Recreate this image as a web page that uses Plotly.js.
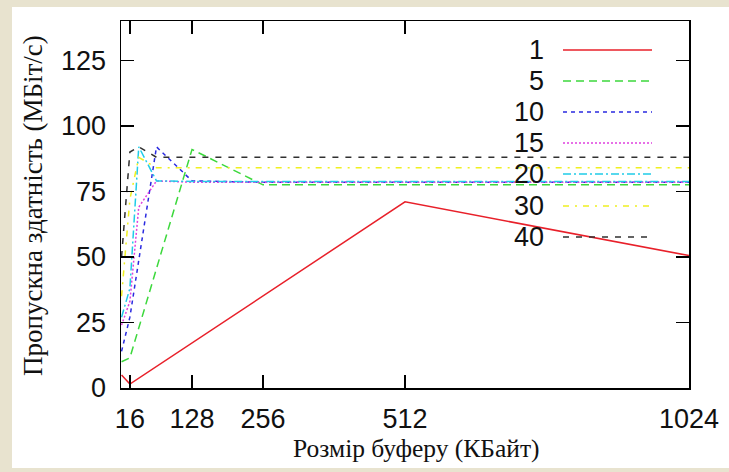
<!DOCTYPE html>
<html>
<head>
<meta charset="utf-8">
<script src="https://cdn.plot.ly/plotly-3.0.1.min.js"></script>
<style>html,body{margin:0;padding:0;background:#e8e3cf;}</style>
</head>
<body>
<div id="chart" style="width:729px;height:472px;"></div>
<script>
// ---- data ----
const seriesNames = ["1", "5", "10", "15", "20", "30", "40"];
const x1  = [1, 16, 512, 1024];
const y1  = [5, 1.5, 71, 50.5];
const x5  = [1, 16, 128, 256, 512, 1024];
const y5  = [10, 11.5, 91, 77.5, 77.5, 77.5];
const x10 = [1, 16, 64, 128, 256, 512, 1024];
const y10 = [14, 27, 92, 79, 78.5, 78.5, 78.5];
const x15 = [1, 16, 32, 64, 128, 256, 512, 1024];
const y15 = [24, 33, 69, 79, 78.5, 78.5, 78.5, 78.5];
const x20 = [1, 16, 32, 64, 128, 256, 512, 1024];
const y20 = [27, 38, 92, 79, 78.8, 78.8, 78.8, 78.8];
const x30 = [1, 16, 32, 64, 128, 256, 512, 1024];
const y30 = [35, 72, 88, 84, 84, 84, 84, 84];
const x40 = [1, 16, 32, 64, 128, 256, 512, 1024];
const y40 = [50, 90, 92, 88, 88, 88, 88, 88];
const xTicks = [16, 128, 256, 512, 1024];
const yTicks = [0, 25, 50, 75, 100, 125];

const xs = [x1, x5, x10, x15, x20, x30, x40];
const ys = [y1, y5, y10, y15, y20, y30, y40];
const colors = ["#e8202a", "#3cd83c", "#2a2ae0", "#e040e0", "#20cce8", "#f0f020", "#303030"];
const dashes = ["solid", "8px,5px", "4px,4px", "2px,2px", "8px,3px,2px,3px", "6px,6px,2px,6px", "6px,7px"];

const traces = seriesNames.map((n, i) => ({
  type: "scatter", mode: "lines", name: n,
  x: xs[i], y: ys[i],
  line: {color: colors[i], width: 1.5, dash: dashes[i]},
  showlegend: false
}));

const L = 121, R = 40, T = 21, B = 84, W = 729, H = 472;
const pw = W - L - R, ph = H - T - B;
const px2x = p => (p - L) / pw;
const py2y = p => (H - B - p) / ph;

const shapes = [{
  type: "rect", xref: "paper", yref: "paper", layer: "below",
  x0: px2x(12), x1: px2x(740), y0: py2y(468), y1: py2y(7),
  fillcolor: "#ffffff", line: {width: 0}
}];
const annotations = [];
const legY = [50, 81, 112, 143, 174, 206, 237];
seriesNames.forEach((n, i) => {
  annotations.push({
    xref: "paper", yref: "paper", x: px2x(546), y: py2y(legY[i]),
    xanchor: "right", yanchor: "middle", showarrow: false, text: n,
    font: {family: "Liberation Sans, Arial, sans-serif", size: 27, color: "#111"}
  });
  shapes.push({
    type: "line", xref: "paper", yref: "paper",
    x0: px2x(563), x1: px2x(652), y0: py2y(legY[i]), y1: py2y(legY[i]),
    line: {color: colors[i], width: 1.5, dash: dashes[i]}
  });
});
annotations.push({
  xref: "paper", yref: "paper", x: px2x(416), y: py2y(449),
  xanchor: "center", yanchor: "middle", showarrow: false,
  text: "Розмір буферу (КБайт)",
  font: {family: "Liberation Serif, Times New Roman, serif", size: 25.5, color: "#111"}
});
annotations.push({
  xref: "paper", yref: "paper", x: px2x(33), y: py2y(206),
  xanchor: "center", yanchor: "middle", showarrow: false, textangle: -90,
  text: "Пропускна здатність (МБіт/с)",
  font: {family: "Liberation Serif, Times New Roman, serif", size: 27, color: "#111"}
});

const axisCommon = {
  showgrid: false, zeroline: false, showline: true, linecolor: "#000", linewidth: 1.5,
  mirror: "ticks", ticks: "inside", ticklen: 13, tickwidth: 1.5, tickcolor: "#000",
  tickfont: {family: "Liberation Sans, Arial, sans-serif", size: 27, color: "#111"}
};

const layout = {
  width: W, height: H,
  margin: {l: L, r: R, t: T, b: B, pad: 0},
  paper_bgcolor: "#e8e3cf", plot_bgcolor: "#ffffff",
  showlegend: false,
  xaxis: Object.assign({}, axisCommon, {range: [0, 1024], tickmode: "array", tickvals: xTicks, ticktext: xTicks.map(String), ticklabelstandoff: 6}),
  yaxis: Object.assign({}, axisCommon, {range: [0, 140], tickmode: "array", tickvals: yTicks, ticktext: yTicks.map(String), ticklabelstandoff: 8}),
  shapes: shapes, annotations: annotations
};

Plotly.newPlot("chart", traces, layout, {displayModeBar: false, staticPlot: true});
</script>
</body>
</html>
